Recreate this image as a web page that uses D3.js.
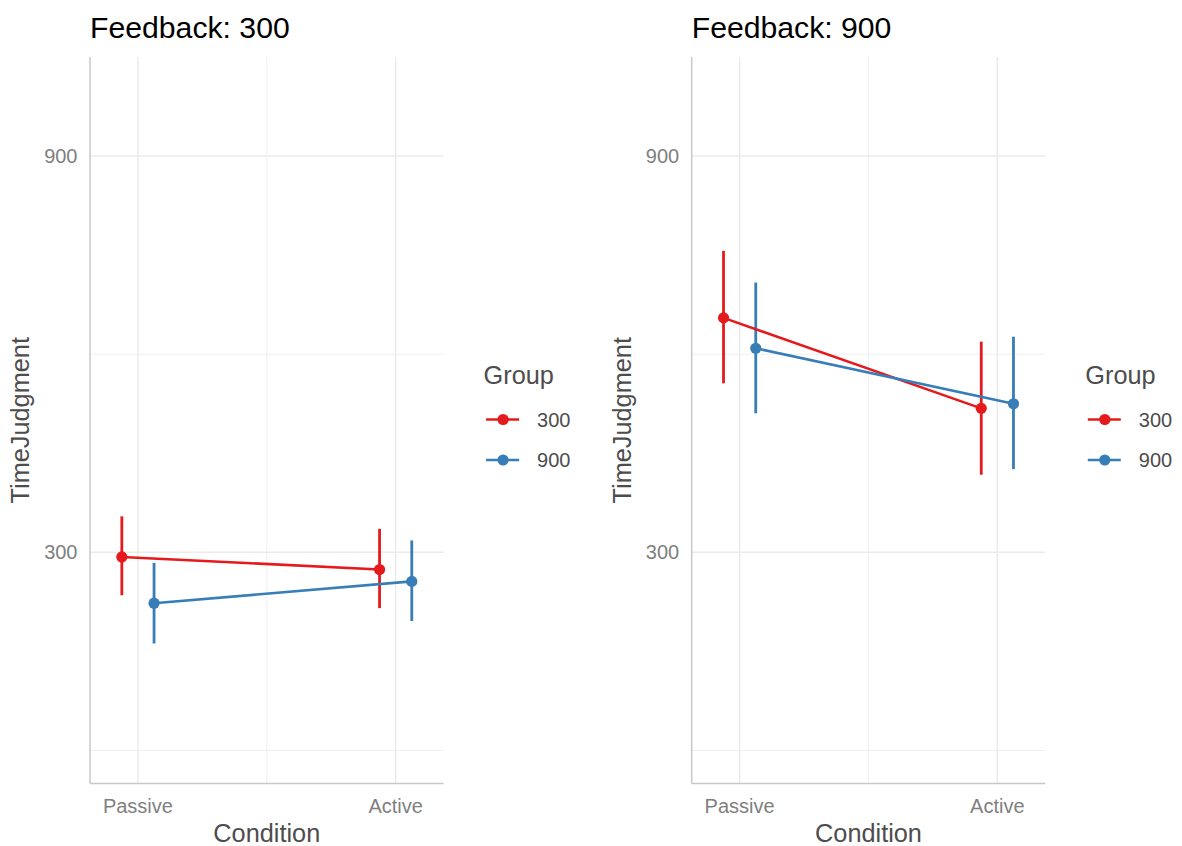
<!DOCTYPE html>
<meta charset="utf-8">
<script src="https://d3js.org/d3.v7.min.js"></script>
<style>
  body { margin: 0; background: #fff; }
  text { font-family: "Liberation Sans", Arial, sans-serif; }
</style>
<div id="chart"></div>
<script>

// data
var conditions = ["Passive", "Active"];
var groups = ["300", "900"];
var feedbacks = ["300", "900"];
var yTicks = [300, 900];
var yMinor = [0, 600];

// Feedback 300
var fb300_g300_mean = [293, 274];
var fb300_g300_low  = [235, 215.5];
var fb300_g300_high = [354.5, 335.5];
var fb300_g900_mean = [223, 256];
var fb300_g900_low  = [162, 196];
var fb300_g900_high = [284, 318];

// Feedback 900
var fb900_g300_mean = [655, 518];
var fb900_g300_low  = [556, 417.5];
var fb900_g300_high = [756.5, 619];
var fb900_g900_mean = [609, 525];
var fb900_g900_low  = [510.5, 426];
var fb900_g900_high = [708.5, 626.5];

var panels = [
  { fb: feedbacks[0], series: [
      { group: "300", mean: fb300_g300_mean, low: fb300_g300_low, high: fb300_g300_high },
      { group: "900", mean: fb300_g900_mean, low: fb300_g900_low, high: fb300_g900_high } ] },
  { fb: feedbacks[1], series: [
      { group: "300", mean: fb900_g300_mean, low: fb900_g300_low, high: fb900_g300_high },
      { group: "900", mean: fb900_g900_mean, low: fb900_g900_low, high: fb900_g900_high } ] }
];

var color = d3.scaleOrdinal().domain(groups).range(["#E41A1C", "#377EB8"]);

var width = 1182, height = 846;
var panelLeft = [90, 691.7], panelWidth = 353.6;
var plotTop = 57, plotBottom = 783.5;

var svg = d3.select("#chart")
  .append("svg")
    .attr("width", width)
    .attr("height", height);

var y = d3.scaleLinear().domain([-50, 1050]).range([plotBottom, plotTop]);

panels.forEach(function(p, i) {
  var left = panelLeft[i];
  var g = svg.append("g").attr("transform", "translate(" + left + ",0)");

  var x = d3.scalePoint().domain(conditions).range([0, panelWidth]).padding(0.186);
  var dodge = x.step() * 0.0625;
  var off = d3.scaleOrdinal().domain(groups).range([-dodge, dodge]);

  // grid
  g.selectAll(".ymin").data(yMinor).enter().append("line")
    .attr("x1", 0).attr("x2", panelWidth)
    .attr("y1", function(d) { return y(d); }).attr("y2", function(d) { return y(d); })
    .style("stroke", "#EBEBEB").style("stroke-width", 0.8);
  g.append("line")
    .attr("x1", (x("Passive") + x("Active")) / 2).attr("x2", (x("Passive") + x("Active")) / 2)
    .attr("y1", plotTop).attr("y2", plotBottom)
    .style("stroke", "#EBEBEB").style("stroke-width", 0.8);
  g.selectAll(".ymaj").data(yTicks).enter().append("line")
    .attr("x1", 0).attr("x2", panelWidth)
    .attr("y1", function(d) { return y(d); }).attr("y2", function(d) { return y(d); })
    .style("stroke", "#EBEBEB").style("stroke-width", 1.5);
  g.selectAll(".xmaj").data(conditions).enter().append("line")
    .attr("x1", function(d) { return x(d); }).attr("x2", function(d) { return x(d); })
    .attr("y1", plotTop).attr("y2", plotBottom)
    .style("stroke", "#EBEBEB").style("stroke-width", 1.5);

  // axis lines
  g.append("line").attr("x1", 0).attr("x2", 0).attr("y1", plotTop).attr("y2", plotBottom)
    .style("stroke", "#C8C8C8").style("stroke-width", 1.5);
  g.append("line").attr("x1", 0).attr("x2", panelWidth).attr("y1", plotBottom).attr("y2", plotBottom)
    .style("stroke", "#C8C8C8").style("stroke-width", 1.5);

  // tick labels
  g.selectAll(".ylab").data(yTicks).enter().append("text")
    .attr("x", -12.5).attr("y", function(d) { return y(d); })
    .attr("dy", "0.35em").attr("text-anchor", "end")
    .style("font-size", "20px").style("fill", "#7F7F7F")
    .text(function(d) { return d; });
  g.selectAll(".xlab").data(conditions).enter().append("text")
    .attr("x", function(d) { return x(d); }).attr("y", 813)
    .attr("text-anchor", "middle")
    .style("font-size", "20px").style("fill", "#7F7F7F")
    .text(function(d) { return d; });

  // axis titles
  g.append("text").attr("x", panelWidth / 2).attr("y", 842)
    .attr("text-anchor", "middle")
    .style("font-size", "25.3px").style("fill", "#4D4D4D")
    .text("Condition");
  g.append("text")
    .attr("transform", "translate(-61," + (plotTop + plotBottom) / 2 + ") rotate(-90)")
    .attr("text-anchor", "middle")
    .style("font-size", "25.3px").style("fill", "#4D4D4D")
    .text("TimeJudgment");

  // title
  g.append("text").attr("x", 0).attr("y", 38)
    .style("font-size", "30.2px").style("fill", "#000")
    .text("Feedback: " + p.fb);

  // error bars
  p.series.forEach(function(s) {
    g.selectAll(null).data(conditions).enter().append("line")
      .attr("x1", function(d) { return x(d) + off(s.group); })
      .attr("x2", function(d) { return x(d) + off(s.group); })
      .attr("y1", function(d, j) { return y(s.low[j]); })
      .attr("y2", function(d, j) { return y(s.high[j]); })
      .style("stroke", color(s.group)).style("stroke-width", 2.8);
  });

  // lines
  var line = d3.line();
  p.series.forEach(function(s) {
    g.append("path")
      .attr("d", line(conditions.map(function(d, j) { return [x(d) + off(s.group), y(s.mean[j])]; })))
      .style("fill", "none").style("stroke", color(s.group)).style("stroke-width", 2.6);
  });

  // points
  p.series.forEach(function(s) {
    g.selectAll(null).data(conditions).enter().append("circle")
      .attr("cx", function(d) { return x(d) + off(s.group); })
      .attr("cy", function(d, j) { return y(s.mean[j]); })
      .attr("r", 5.6)
      .style("fill", color(s.group));
  });

  // legend
  var lg = g.append("g").attr("transform", "translate(" + (panelWidth + 40) + ",0)");
  lg.append("text").attr("x", 0).attr("y", 384)
    .style("font-size", "25.3px").style("fill", "#4D4D4D")
    .text("Group");
  groups.forEach(function(gr, k) {
    var ky = 419.5 + k * 40.5;
    lg.append("line").attr("x1", 2.5).attr("x2", 35.5).attr("y1", ky).attr("y2", ky)
      .style("stroke", color(gr)).style("stroke-width", 2.6);
    lg.append("circle").attr("cx", 19.5).attr("cy", ky).attr("r", 5.6).style("fill", color(gr));
    lg.append("text").attr("x", 53.5).attr("y", ky).attr("dy", "0.36em")
      .style("font-size", "20px").style("fill", "#4D4D4D")
      .text(gr);
  });
});

</script>
